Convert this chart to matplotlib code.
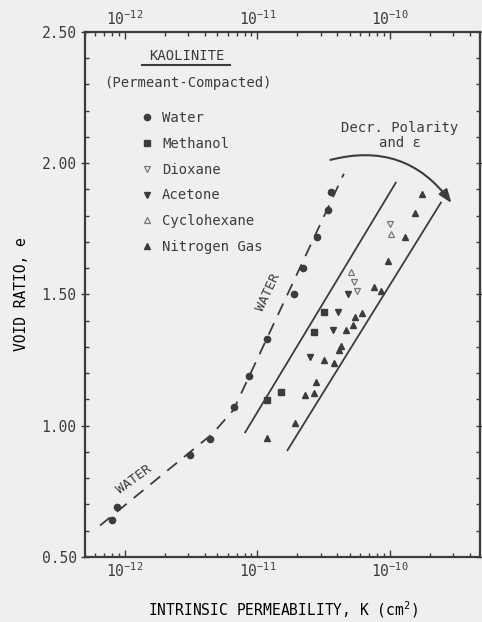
import matplotlib
matplotlib.use("Agg")
import matplotlib.pyplot as plt
from matplotlib.ticker import FixedLocator, MultipleLocator, LogLocator, FormatStrFormatter
from matplotlib.lines import Line2D

# permeability K (cm^2) and void ratio e
water_k = [8.0e-13, 8.7e-13, 3.1e-12, 4.4e-12, 6.7e-12, 8.6e-12, 1.19e-11,
           1.9e-11, 2.23e-11, 2.8e-11, 3.4e-11, 3.57e-11]
water_e = [0.64, 0.69, 0.89, 0.95, 1.07, 1.19, 1.33, 1.50, 1.60, 1.72, 1.82, 1.89]

water_line_k = [6.5e-13, 4.6e-12, 6.6e-12, 4.5e-11]
water_line_e = [0.62, 0.97, 1.06, 1.96]

band_left_k = [8.1e-12, 1.11e-10]
band_left_e = [0.975, 1.926]
band_right_k = [1.69e-11, 2.43e-10]
band_right_e = [0.907, 1.850]

methanol_k = [3.16e-11, 2.7e-11, 1.52e-11, 1.19e-11]
methanol_e = [1.435, 1.359, 1.127, 1.097]

acetone_k = [4.04e-11, 3.7e-11, 4.8e-11, 2.48e-11]
acetone_e = [1.435, 1.363, 1.500, 1.260]

dioxane_k = [5.4e-11, 5.7e-11, 1.0e-10]
dioxane_e = [1.549, 1.515, 1.770]

cyclohexane_k = [5.07e-11, 1.02e-10]
cyclohexane_e = [1.584, 1.732]

nitrogen_k = [4.65e-11, 5.25e-11, 5.5e-11, 6.2e-11, 3.16e-11, 3.77e-11, 4.1e-11,
              4.3e-11, 2.75e-11, 2.27e-11, 2.7e-11, 1.94e-11, 1.19e-11, 7.6e-11,
              8.55e-11, 9.65e-11, 1.3e-10, 1.55e-10, 1.75e-10]
nitrogen_e = [1.363, 1.382, 1.413, 1.428, 1.249, 1.238, 1.287, 1.302, 1.165,
              1.116, 1.124, 1.010, 0.952, 1.527, 1.515, 1.629, 1.720, 1.812, 1.884]

x_ticks = [1e-12, 1e-11, 1e-10]
y_ticks = [0.50, 1.00, 1.50, 2.00, 2.50]

ink = "#3c3c3c"
bg = "#efefef"

plt.rcParams["font.family"] = ["DejaVu Sans Mono"]
plt.rcParams["mathtext.default"] = "regular"
plt.rcParams["text.color"] = ink
plt.rcParams["axes.edgecolor"] = ink
plt.rcParams["xtick.color"] = ink
plt.rcParams["ytick.color"] = ink

fig = plt.figure(figsize=(4.82, 6.22), dpi=100, facecolor=bg)
ax = fig.add_axes([0.1763, 0.1045, 0.8197, 0.8441], facecolor=bg)

ax.plot(water_line_k, water_line_e, color=ink, lw=1.3, dashes=(7, 5))
ax.plot(band_left_k, band_left_e, color=ink, lw=1.3)
ax.plot(band_right_k, band_right_e, color=ink, lw=1.3)

ms = 5
ax.plot(water_k, water_e, "o", color=ink, ms=ms - 0.5, label="Water")
ax.plot(methanol_k, methanol_e, "s", color=ink, ms=ms, label="Methanol")
ax.plot(dioxane_k, dioxane_e, "v", mfc="none", mec="#777777", mew=0.9, ms=ms, label="Dioxane")
ax.plot(acetone_k, acetone_e, "v", color=ink, ms=ms, label="Acetone")
ax.plot(cyclohexane_k, cyclohexane_e, "^", mfc="none", mec="#777777", mew=0.9, ms=ms,
        label="Cyclohexane")
ax.plot(nitrogen_k, nitrogen_e, "^", color=ink, ms=ms, label="Nitrogen Gas")

ax.set_xscale("log")
ax.set_xlim(5e-13, 4.8e-10)
ax.set_ylim(0.5, 2.5)

ax.xaxis.set_major_locator(FixedLocator(x_ticks))
ax.xaxis.set_minor_locator(LogLocator(base=10, subs=range(2, 10)))
ax.yaxis.set_major_locator(FixedLocator(y_ticks))
ax.yaxis.set_minor_locator(MultipleLocator(0.1))
ax.yaxis.set_major_formatter(FormatStrFormatter("%.2f"))

ax.tick_params(which="both", top=True, right=True, labeltop=True, direction="in",
               labelsize=10.5, width=1)
ax.tick_params(which="major", length=5, pad=3)
ax.tick_params(which="minor", length=3)
ax.tick_params(axis="y", which="major", direction="inout", length=6)
for s in ax.spines.values():
    s.set_linewidth(1.6)

ax.set_xlabel("INTRINSIC PERMEABILITY, K (cm$^2$)", fontsize=10.5, labelpad=14)
ax.set_ylabel("VOID RATIO, e", fontsize=10.5, labelpad=9)

ax.legend(loc="upper left", bbox_to_anchor=(0.139, 0.8495), frameon=False,
          fontsize=10, handlelength=1.0, handletextpad=0.6, labelspacing=0.85,
          borderpad=0, borderaxespad=0, numpoints=1)

ax.text(0.258, 0.954, "KAOLINITE", transform=ax.transAxes, ha="center", va="center",
        fontsize=10)
ax.add_line(Line2D([0.144, 0.367], [0.938, 0.938], transform=ax.transAxes, color=ink,
                   lw=1.5))
ax.text(0.261, 0.903, "(Permeant-Compacted)", transform=ax.transAxes, ha="center",
        va="center", fontsize=10)

ax.text(0.797, 0.803, "Decr. Polarity\nand \u03b5", transform=ax.transAxes, ha="center",
        va="center", fontsize=10, linespacing=1.1)
ax.annotate("", xy=(3.0e-10, 1.84), xytext=(3.4e-11, 2.01),
            arrowprops=dict(arrowstyle="-|>,head_length=0.8,head_width=0.3",
                            connectionstyle="arc3,rad=-0.35", color=ink, lw=1.5))

ax.text(1.21e-11, 1.508, "WATER", rotation=65, ha="center", va="center", fontsize=9.5)
ax.text(1.17e-12, 0.797, "WATER", rotation=36, ha="center", va="center", fontsize=9.5)

fig.savefig("out.png", dpi=100, facecolor=bg)
